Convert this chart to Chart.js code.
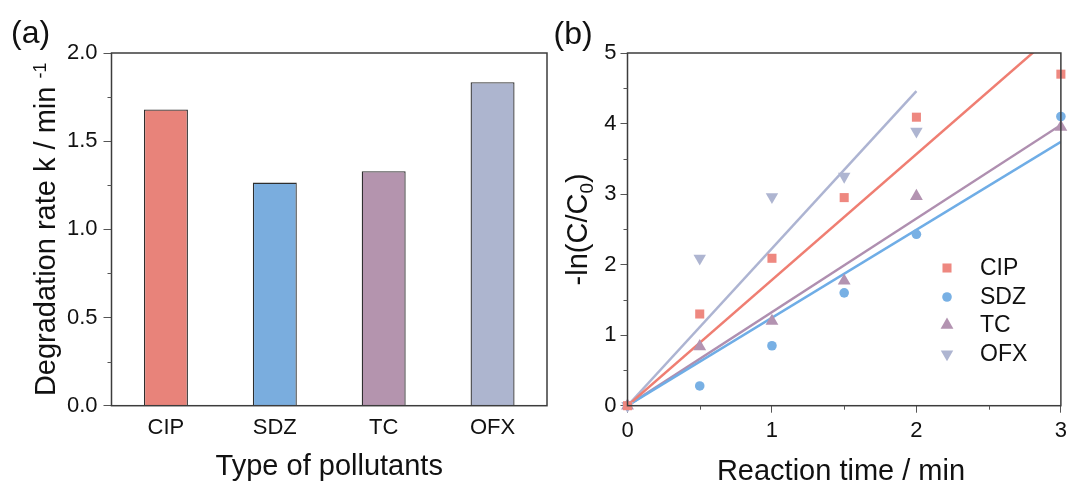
<!DOCTYPE html>
<html lang="en">
<head>
  <meta charset="UTF-8">
  <title>Degradation kinetics</title>
  <script src="https://cdn.jsdelivr.net/npm/chart.js"></script>
  <style>
    body {
      margin: 0;
      background: #fff;
    }
    .wrap {
      position: relative;
      width: 1072px;
      height: 482px;
    }
    #rateChart { position: absolute; left: 0; top: 0; }
    #kineticChart { position: absolute; left: 550px; top: 0; }
  </style>
</head>
<body>
  <div class="wrap">
    <canvas id="rateChart" width="550" height="482"></canvas>
    <canvas id="kineticChart" width="522" height="482"></canvas>
  </div>

  <script>
    // panel (a) - rate constants
    const pollutants = ['CIP', 'SDZ', 'TC', 'OFX'];
    const rateK = [1.68, 1.265, 1.33, 1.834];
    const barColors = ['#E8837A', '#7AADDE', '#B494AE', '#ADB5CF'];
    const rateTicks = [0, 0.5, 1.0, 1.5, 2.0];

    // panel (b) - -ln(C/C0) vs time
    const timeMin = [0, 0.5, 1, 1.5, 2, 3];
    const lnCIP = [0, 1.30, 2.09, 2.95, 4.09, 4.70];
    const lnSDZ = [0, 0.28, 0.85, 1.60, 2.43, 4.10];
    const lnTC = [0, 0.84, 1.20, 1.77, 2.97, 3.95];
    const lnOFX = [0, 2.09, 2.96, 3.25, 3.89]; // no 3 min point
    // fitted lines, read as end points
    const fitX = [0, 3];
    const fitOFXX = [0, 2];
    const fitCIP = [0, 5.35];
    const fitSDZ = [0, 3.74];
    const fitTC = [0, 3.98];
    const fitOFX = [0, 4.46];

    const markColors = ['#EE8880', '#78B0E4', '#B393B1', '#AEB5D1'];
    const lineColors = ['#EF7E72', '#6FADE6', '#AF8FB0', '#ADB4D2'];

    Chart.defaults.font.family = '"Liberation Sans", Arial, sans-serif';
    Chart.defaults.color = '#111';
    Chart.defaults.animation = false;

    const FONT = '"Liberation Sans", Arial, sans-serif';
    const AXIS = '#3c3c3c';

    function font(size) {
      return size + 'px ' + FONT;
    }

    // draws pieces of text (sub/superscripts) centred on cx
    function richText(ctx, parts, cx, y) {
      let total = 0;
      parts.forEach(p => {
        ctx.font = font(p.size);
        p.w = ctx.measureText(p.text).width;
        total += p.w;
      });
      let x = cx - total / 2;
      ctx.textAlign = 'left';
      ctx.textBaseline = 'alphabetic';
      parts.forEach(p => {
        ctx.font = font(p.size);
        ctx.fillText(p.text, x, y + (p.dy || 0));
        x += p.w;
      });
    }

    function frame(chart) {
      const a = chart.chartArea;
      const ctx = chart.ctx;
      ctx.save();
      ctx.strokeStyle = AXIS;
      ctx.lineWidth = 1.5;
      ctx.strokeRect(a.left, a.top, a.right - a.left, a.bottom - a.top);
      ctx.restore();
    }

    const rateDeco = {
      id: 'rateDeco',
      afterDraw(chart) {
        const ctx = chart.ctx;
        const a = chart.chartArea;
        const y = chart.scales.y;
        frame(chart);
        ctx.save();
        ctx.strokeStyle = '#555';
        ctx.lineWidth = 1;
        // minor ticks
        for (let i = 0; i < rateTicks.length - 1; i++) {
          const v = (rateTicks[i] + rateTicks[i + 1]) / 2;
          const py = Math.round(y.getPixelForValue(v)) + 0.5;
          ctx.beginPath();
          ctx.moveTo(a.left - 4, py);
          ctx.lineTo(a.left, py);
          ctx.stroke();
        }
        ctx.fillStyle = '#111';
        ctx.textAlign = 'left';
        ctx.textBaseline = 'alphabetic';
        ctx.font = font(32);
        ctx.fillText('(a)', 11, 43);

        richText(ctx, [{ text: 'Type of pollutants', size: 29 }], (a.left + a.right) / 2, 475);

        ctx.translate(55, (a.top + a.bottom) / 2);
        ctx.rotate(-Math.PI / 2);
        richText(ctx, [
          { text: 'Degradation rate k / min ', size: 29 },
          { text: '-1', size: 18, dy: -9 }
        ], 0, 0);
        ctx.restore();
      }
    };

    new Chart(document.getElementById('rateChart'), {
      type: 'bar',
      data: {
        labels: pollutants,
        datasets: [{
          data: rateK,
          backgroundColor: barColors,
          borderColor: '#2e2e2e',
          borderWidth: 1.3,
          barPercentage: 0.404,
          categoryPercentage: 1
        }]
      },
      options: {
        responsive: false,
        layout: { padding: { top: 53, right: 3, left: 0, bottom: 0 } },
        plugins: { legend: { display: false }, tooltip: { enabled: false } },
        scales: {
          x: {
            grid: { display: false, drawTicks: false },
            border: { display: false },
            ticks: { font: { size: 22 }, padding: 9 },
            afterFit: s => { s.height = 76.3; }
          },
          y: {
            min: 0,
            max: 2,
            grid: { drawOnChartArea: false, tickLength: 8, color: '#555' },
            border: { display: false },
            ticks: {
              stepSize: 0.5,
              font: { size: 22 },
              padding: 6,
              callback: v => v.toFixed(1)
            },
            afterFit: s => { s.width = 111.5; }
          }
        }
      },
      plugins: [rateDeco]
    });

    const kinLegend = [
      { label: 'CIP', style: 'rect', radius: 6.4, rotation: 0 },
      { label: 'SDZ', style: 'circle', radius: 4.8, rotation: 0 },
      { label: 'TC', style: 'triangle', radius: 7.4, rotation: 0 },
      { label: 'OFX', style: 'triangle', radius: 7.2, rotation: 180 }
    ];

    const kinDeco = {
      id: 'kinDeco',
      afterDraw(chart) {
        const ctx = chart.ctx;
        const a = chart.chartArea;
        const xs = chart.scales.x;
        const ys = chart.scales.y;
        frame(chart);
        ctx.save();
        ctx.strokeStyle = '#555';
        ctx.lineWidth = 1;
        for (let v = 0.5; v < 5; v += 1) {
          const py = Math.round(ys.getPixelForValue(v)) + 0.5;
          ctx.beginPath();
          ctx.moveTo(a.left - 4, py);
          ctx.lineTo(a.left, py);
          ctx.stroke();
        }
        for (let v = 0.5; v < 3; v += 1) {
          const px = Math.round(xs.getPixelForValue(v)) + 0.5;
          ctx.beginPath();
          ctx.moveTo(px, a.bottom);
          ctx.lineTo(px, a.bottom + 4);
          ctx.stroke();
        }

        // legend
        const rows = [268, 297, 325, 354];
        kinLegend.forEach((item, i) => {
          ctx.fillStyle = markColors[i];
          ctx.strokeStyle = markColors[i];
          Chart.helpers.drawPoint(ctx, {
            pointStyle: item.style,
            radius: item.radius,
            rotation: item.rotation,
            borderWidth: 0
          }, 397, rows[i]);
          ctx.fillStyle = '#111';
          ctx.font = font(23);
          ctx.textAlign = 'left';
          ctx.textBaseline = 'middle';
          ctx.fillText(item.label, 430, rows[i] + 1);
        });

        ctx.fillStyle = '#111';
        ctx.textAlign = 'left';
        ctx.textBaseline = 'alphabetic';
        ctx.font = font(32);
        ctx.fillText('(b)', 3.5, 44);

        richText(ctx, [{ text: 'Reaction time / min', size: 29 }], 291, 480);

        ctx.translate(37, (a.top + a.bottom) / 2);
        ctx.rotate(-Math.PI / 2);
        richText(ctx, [
          { text: '-ln(C/C', size: 29 },
          { text: '0', size: 19, dy: 6 },
          { text: ')', size: 29 }
        ], 0, 0);
        ctx.restore();
      }
    };

    function pts(xv, yv) {
      return yv.map((y, i) => ({ x: xv[i], y: y }));
    }

    function markSet(label, values, i) {
      const s = kinLegend[i];
      return {
        label: label,
        data: pts(timeMin, values),
        showLine: false,
        pointStyle: s.style,
        pointRadius: s.radius,
        pointRotation: s.rotation,
        pointBackgroundColor: markColors[i],
        pointBorderWidth: 0,
        clip: false
      };
    }

    function fitSet(xv, values, i) {
      return {
        data: pts(xv, values),
        showLine: true,
        borderColor: lineColors[i],
        borderWidth: 2.5,
        pointRadius: 0
      };
    }

    new Chart(document.getElementById('kineticChart'), {
      type: 'scatter',
      data: {
        datasets: [
          markSet('CIP', lnCIP, 0),
          markSet('SDZ', lnSDZ, 1),
          markSet('TC', lnTC, 2),
          markSet('OFX', lnOFX, 3),
          fitSet(fitX, fitCIP, 0),
          fitSet(fitX, fitSDZ, 1),
          fitSet(fitX, fitTC, 2),
          fitSet(fitOFXX, fitOFX, 3)
        ]
      },
      options: {
        responsive: false,
        layout: { padding: { top: 53, right: 8, left: 0, bottom: 0 } },
        plugins: { legend: { display: false }, tooltip: { enabled: false } },
        scales: {
          x: {
            type: 'linear',
            min: 0,
            max: 3,
            grid: { drawOnChartArea: false, tickLength: 7, color: '#555' },
            border: { display: false },
            ticks: { stepSize: 1, font: { size: 22 }, padding: 5 },
            afterFit: s => { s.height = 76.3; }
          },
          y: {
            min: 0,
            max: 5,
            grid: { drawOnChartArea: false, tickLength: 7, color: '#555' },
            border: { display: false },
            ticks: { stepSize: 1, font: { size: 22 }, padding: 4 },
            afterFit: s => { s.width = 77.5; }
          }
        }
      },
      plugins: [kinDeco]
    });
  </script>
</body>
</html>
